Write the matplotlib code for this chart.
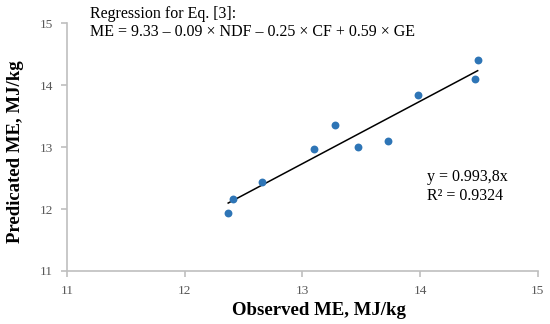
import numpy as np
import matplotlib.pyplot as plt

# observed vs predicted ME
observed = [12.37, 12.41, 12.66, 13.10, 13.28, 13.47, 13.73, 13.98, 14.47, 14.49]
predicted = [11.94, 12.17, 12.44, 12.97, 13.36, 13.00, 13.10, 13.84, 14.10, 14.40]
ticks = [11, 12, 13, 14, 15]

plt.rcParams['font.family'] = ['Liberation Serif', 'DejaVu Serif']

fig = plt.figure(figsize=(5.5, 3.24), dpi=100)
ax = fig.add_axes([0.1218, 0.1636, 0.8558, 0.7644])

ax.scatter(observed, predicted, s=32, color='#2E75B6', zorder=3, linewidths=0)

# linear trendline
k, b = np.polyfit(observed, predicted, 1)
xl = np.array([min(observed), max(observed)])
ax.plot(xl, k * xl + b, color='black', lw=1.1, zorder=2)

ax.set_xlim(11, 15)
ax.set_ylim(11, 15)
ax.set_xticks(ticks)
ax.set_yticks(ticks)

gray = '#BFBFBF'
for s in ['top', 'right']:
    ax.spines[s].set_visible(False)
for s in ['left', 'bottom']:
    ax.spines[s].set_color(gray)
    ax.spines[s].set_linewidth(1.2)
ax.tick_params(colors=gray, labelcolor='#595959', labelsize=9.5, length=4, width=1.2, pad=6)

ax.set_xlabel('Observed ME, MJ/kg', fontsize=13.5, fontweight='bold', va='center')
ax.xaxis.set_label_coords(0.535, -0.160)
ax.set_ylabel('Predicated ME, MJ/kg', fontsize=13.5, fontweight='bold', va='center')
ax.yaxis.set_label_coords(-0.110, 0.480)

fig.text(90 / 550, 1 - 13.5 / 324, 'Regression for Eq. [3]:', fontsize=11.5, va='center')
fig.text(90 / 550, 1 - 32.5 / 324, 'ME = 9.33 \u2013 0.09 \u00d7 NDF \u2013 0.25 \u00d7 CF + 0.59 \u00d7 GE',
         fontsize=11.5, va='center')
fig.text(427 / 550, 1 - 177 / 324, 'y = 0.993,8x', fontsize=11.5, va='center')
fig.text(427 / 550, 1 - 196 / 324, 'R\u00b2 = 0.9324', fontsize=11.5, va='center')

fig.savefig('out.png', dpi=100)
